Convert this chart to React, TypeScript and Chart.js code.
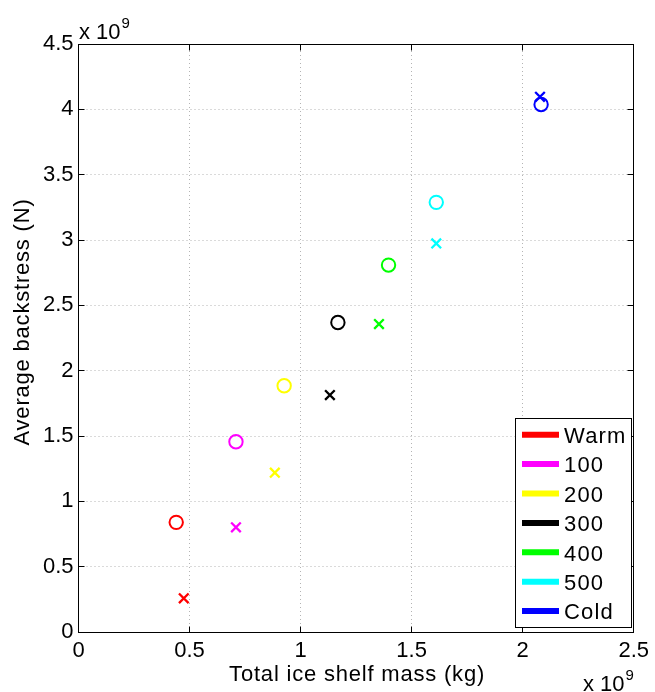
import React, { useEffect, useRef } from 'react';
import { Chart, registerables } from 'chart.js';

Chart.register(...registerables);

// ---- data (values in units of 1e9) ----
const seriesLabels = ['Warm', '100', '200', '300', '400', '500', 'Cold'];
const seriesColors = ['#ff0000', '#ff00ff', '#ffff00', '#000000', '#00ff00', '#00ffff', '#0000ff'];
const circleMass = [0.44, 0.709, 0.926, 1.168, 1.396, 1.611, 2.083];
const circleStress = [0.839, 1.456, 1.885, 2.369, 2.808, 3.288, 4.037];
const crossMass = [0.474, 0.709, 0.884, 1.132, 1.353, 1.611, 2.078];
const crossStress = [0.258, 0.801, 1.219, 1.813, 2.357, 2.974, 4.096];
const xTicks = [0, 0.5, 1, 1.5, 2, 2.5];
const yTicks = [0, 0.5, 1, 1.5, 2, 2.5, 3, 3.5, 4, 4.5];
const xTitle = 'Total ice shelf mass (kg)';
const yTitle = 'Average backstress (N)';
const exponentBase = 'x 10';
const exponentPower = '9';

const FONT_FAMILY = '"Liberation Sans", Arial, Helvetica, sans-serif';
const FONT = `22px ${FONT_FAMILY}`;
const SUP_FONT = `15px ${FONT_FAMILY}`;

const matlabPlugin = {
  id: 'matlabDecor',
  beforeDatasetsDraw(chart: any) {
    const { ctx, chartArea, scales } = chart;
    const { left, right, top, bottom } = chartArea;
    ctx.save();
    ctx.strokeStyle = '#b4b4b4';
    ctx.lineWidth = 1;
    ctx.setLineDash([1, 3]);
    xTicks.forEach((v) => {
      const px = Math.floor(scales.x.getPixelForValue(v)) + 0.5;
      ctx.beginPath();
      ctx.moveTo(px, bottom);
      ctx.lineTo(px, top);
      ctx.stroke();
    });
    yTicks.forEach((v) => {
      const py = Math.floor(scales.y.getPixelForValue(v)) + 0.5;
      ctx.beginPath();
      ctx.moveTo(left, py);
      ctx.lineTo(right, py);
      ctx.stroke();
    });
    ctx.restore();
  },
  afterDraw(chart: any) {
    const { ctx, chartArea, scales } = chart;
    const { left, right, top, bottom } = chartArea;
    const L = Math.floor(left) + 0.5;
    const R = Math.floor(right) + 0.5;
    const T = Math.floor(top) + 0.5;
    const B = Math.floor(bottom) + 0.5;
    ctx.save();
    ctx.setLineDash([]);
    ctx.strokeStyle = '#000';
    ctx.lineWidth = 1;
    ctx.strokeRect(L, T, R - L, B - T);
    const tl = 6;
    xTicks.forEach((v) => {
      const px = Math.floor(scales.x.getPixelForValue(v)) + 0.5;
      ctx.beginPath();
      ctx.moveTo(px, B);
      ctx.lineTo(px, B - tl);
      ctx.moveTo(px, T);
      ctx.lineTo(px, T + tl);
      ctx.stroke();
    });
    yTicks.forEach((v) => {
      const py = Math.floor(scales.y.getPixelForValue(v)) + 0.5;
      ctx.beginPath();
      ctx.moveTo(L, py);
      ctx.lineTo(L + tl, py);
      ctx.moveTo(R, py);
      ctx.lineTo(R - tl, py);
      ctx.stroke();
    });

    // axis titles
    ctx.fillStyle = '#000';
    ctx.font = FONT;
    (ctx as any).letterSpacing = '0.8px';
    ctx.textAlign = 'center';
    ctx.textBaseline = 'alphabetic';
    ctx.fillText(xTitle, (left + right) / 2 + 1, 681);
    ctx.save();
    ctx.translate(29, 322);
    ctx.rotate(-Math.PI / 2);
    ctx.fillText(yTitle, 0, 0);
    ctx.restore();

    // exponent labels
    (ctx as any).letterSpacing = '0px';
    ctx.textAlign = 'left';
    const drawExp = (x: number, baseY: number) => {
      ctx.font = FONT;
      ctx.fillText(exponentBase, x, baseY);
      const w = ctx.measureText(exponentBase).width;
      ctx.font = SUP_FONT;
      ctx.fillText(exponentPower, x + w + 1, baseY - 11);
    };
    drawExp(79, 39);
    drawExp(583, 691);

    // legend
    const boxX = 515.5, boxY = 418.5, boxW = 116, boxH = 209;
    ctx.fillStyle = '#fff';
    ctx.fillRect(boxX, boxY, boxW, boxH);
    ctx.strokeStyle = '#000';
    ctx.lineWidth = 1;
    ctx.strokeRect(boxX, boxY, boxW, boxH);
    ctx.font = FONT;
    (ctx as any).letterSpacing = '1.2px';
    ctx.textAlign = 'left';
    ctx.textBaseline = 'alphabetic';
    chart.data.datasets.forEach((ds: any, i: number) => {
      const cy = 434.7 + i * 29.4;
      ctx.strokeStyle = ds.borderColor;
      ctx.lineWidth = 6;
      ctx.beginPath();
      ctx.moveTo(522, cy);
      ctx.lineTo(559, cy);
      ctx.stroke();
      ctx.fillStyle = '#000';
      ctx.fillText(ds.label, 564, cy + 8.3);
    });
    ctx.restore();
  },
};

export default function App() {
  const canvasRef = useRef<HTMLCanvasElement | null>(null);

  useEffect(() => {
    const canvas = canvasRef.current;
    if (!canvas) return;
    const datasets = seriesLabels.map((label, i) => ({
      label,
      data: [
        { x: circleMass[i], y: circleStress[i] },
        { x: crossMass[i], y: crossStress[i] },
      ],
      borderColor: seriesColors[i],
      backgroundColor: 'rgba(0,0,0,0)',
      pointStyle: ['circle', 'crossRot'],
      pointRadius: [6.7, 6.8],
      pointBorderWidth: [2, 2.3],
      showLine: false,
    }));
    const chart = new Chart(canvas, {
      type: 'scatter',
      data: { datasets } as any,
      options: {
        animation: false,
        responsive: false,
        maintainAspectRatio: false,
        devicePixelRatio: 1,
        layout: { padding: { top: 44, right: 18.5, left: 0, bottom: 0 } },
        plugins: { legend: { display: false }, tooltip: { enabled: false } },
        scales: {
          x: {
            type: 'linear',
            min: 0,
            max: 2.5,
            afterBuildTicks: (s: any) => { s.ticks = xTicks.map((v) => ({ value: v })); },
            afterFit: (s: any) => { s.height = 60; },
            grid: { display: false, drawTicks: false },
            border: { display: false },
            ticks: {
              color: '#000',
              font: { family: FONT_FAMILY, size: 22 },
              padding: 6,
              maxRotation: 0,
              autoSkip: false,
              callback: (v: any) => String(v),
            },
          },
          y: {
            type: 'linear',
            min: 0,
            max: 4.5,
            afterBuildTicks: (s: any) => { s.ticks = yTicks.map((v) => ({ value: v })); },
            afterFit: (s: any) => { s.width = 78.5; },
            grid: { display: false, drawTicks: false },
            border: { display: false },
            ticks: {
              color: '#000',
              font: { family: FONT_FAMILY, size: 22 },
              padding: 5,
              autoSkip: false,
              callback: (v: any) => String(v),
            },
          },
        },
      } as any,
      plugins: [matlabPlugin],
    });
    return () => chart.destroy();
  }, []);

  return (
    <div style={{ position: 'absolute', left: 0, top: 0, width: 655, height: 692, background: '#fff' }}>
      <canvas ref={canvasRef} width={655} height={692} />
    </div>
  );
}
